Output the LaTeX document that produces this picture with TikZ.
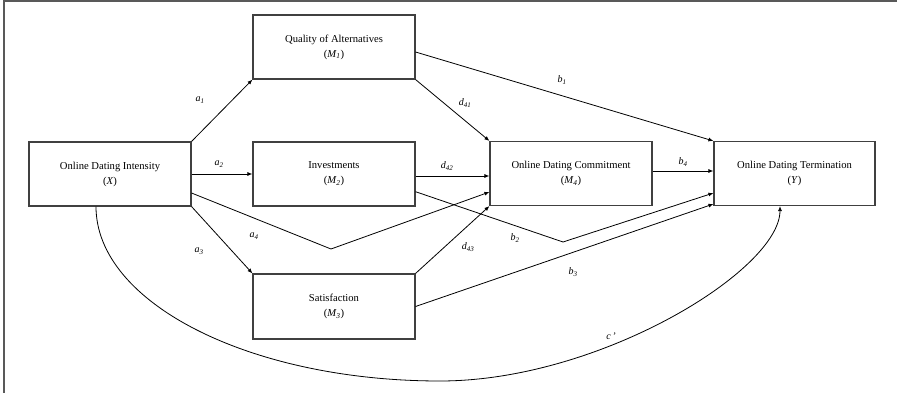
\documentclass[tikz,border=0pt]{standalone}
\usepackage{fontspec}
\setmainfont{Liberation Serif}
\usetikzlibrary{arrows.meta}
\begin{document}
\begin{tikzpicture}[x=1pt,y=-1pt,
  box/.style={draw=black!75,line width=1.1pt,minimum width=162pt,minimum height=64pt,
    inner sep=0pt,align=center,font=\fontsize{10.6}{15}\selectfont},
  conn/.style={draw=black,line width=0.8pt,-{Latex[length=5pt,width=4pt]}},
  plain/.style={draw=black,line width=0.8pt},
  lbl/.style={font=\fontsize{10}{11}\selectfont\itshape,inner sep=0pt}]
\useasboundingbox (0,0) rectangle (897,393);
\draw[black!65,line width=2pt] (4,393) -- (4,1) -- (897,1);
% boxes
\node[box] (X)  at (110,174)   {Online Dating Intensity\\(\textit{X})};
\node[box] (M1) at (334,47)    {Quality of Alternatives\\(\textit{M\textsubscript{1}})};
\node[box] (M2) at (334,174)   {Investments\\(\textit{M\textsubscript{2}})};
\node[box,minimum height=65pt] (M3) at (334,306.5) {Satisfaction\\(\textit{M\textsubscript{3}})};
\node[box] (M4) at (571,173.5) {Online Dating Commitment\\(\textit{M\textsubscript{4}})};
\node[box,minimum width=161pt] (Y) at (794.5,173.5) {Online Dating Termination\\(\textit{Y})};
% knots
\coordinate (ka4) at (331,249);
\coordinate (kb2) at (563,242);
% connectors
\draw[conn] (X.north east) -- (M1.south west);
\draw[conn] (X.east) -- (M2.west);
\draw[conn] (X.south east) -- (M3.north west);
\draw[plain] ([yshift=-19pt]X.east) -- (ka4);
\draw[conn] (ka4) -- ([yshift=-18.5pt]M4.west);
\draw[conn] (M1.south east) -- (M4.north west);
\draw[conn] ([yshift=-2pt]M2.east) -- ([yshift=-2.5pt]M4.west);
\draw[conn] (M3.north east) -- (M4.south west);
\draw[conn] ([yshift=-5pt]M1.east) -- (Y.north west);
\draw[plain] ([yshift=-17.7pt]M2.east) -- (kb2);
\draw[conn] (kb2) -- ([yshift=-19.5pt]Y.west);
\draw[conn] (M3.east) -- ([yshift=-30.5pt]Y.west);
\draw[conn] ([yshift=2.5pt]M4.east) -- ([yshift=2.5pt]Y.west);
\coordinate (cb) at (440,381);
\draw[conn] ([xshift=-14pt]X.south) .. controls (96,303) and (250,381) .. (cb)
   .. controls (600,381) and (780,270) .. ([xshift=-14.5pt]Y.south);
% labels
\node[lbl] (la1) at (200,100) {a\textsubscript{1}};
\node[lbl] (la2) at (219,164) {a\textsubscript{2}};
\node[lbl] (la3) at (199,251) {a\textsubscript{3}};
\node[lbl] (la4) at (254,236) {a\textsubscript{4}};
\node[lbl] (ld41) at (465,103) {d\textsubscript{41}};
\node[lbl] (ld42) at (447,166) {d\textsubscript{42}};
\node[lbl] (ld43) at (468,247) {d\textsubscript{43}};
\node[lbl] (lb1) at (562,80) {b\textsubscript{1}};
\node[lbl] (lb2) at (515,238) {b\textsubscript{2}};
\node[lbl] (lb3) at (573,272) {b\textsubscript{3}};
\node[lbl] (lb4) at (683,162) {b\textsubscript{4}};
\node[lbl] (lc) at (611,336) {c\,’};
\end{tikzpicture}
\end{document}
